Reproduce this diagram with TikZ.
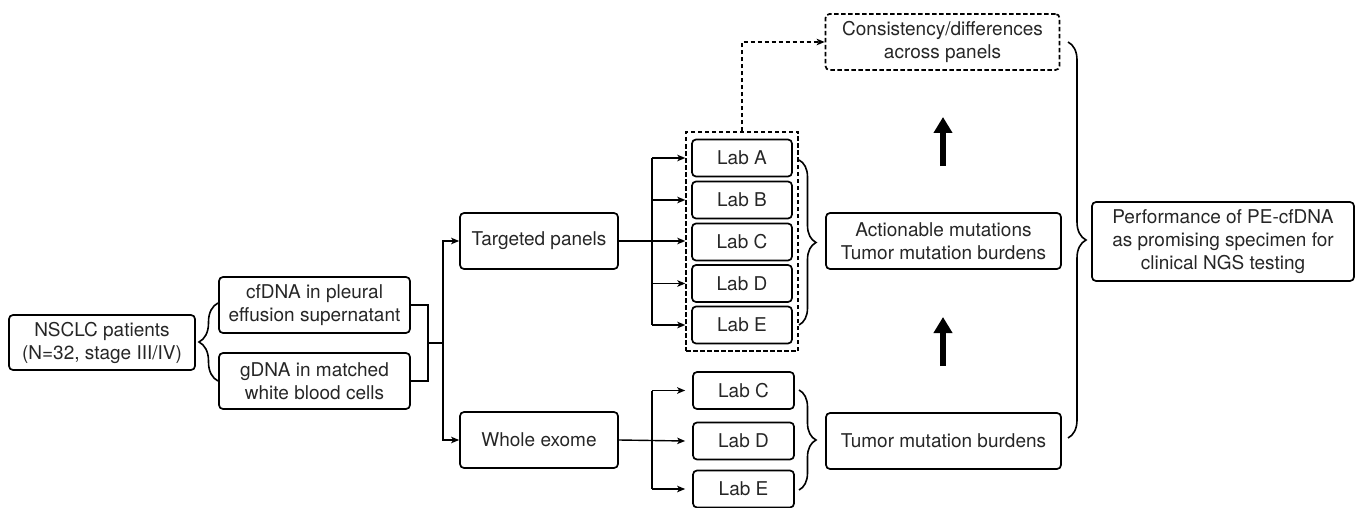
\documentclass[tikz,border=0pt]{standalone}
\usepackage{fontspec}
\setmainfont{TeX Gyre Heros}
\usetikzlibrary{arrows.meta,decorations.pathreplacing,calc}
\begin{document}
\begin{tikzpicture}[x=1pt,y=-1pt,
  box/.style={draw, rounded corners=4pt, line width=1.7pt, align=center, inner sep=0pt,
    font=\fontsize{19}{23}\selectfont, text=black!85},
  labbox/.style={box, minimum width=100pt, minimum height=37pt},
  ln/.style={line width=1.4pt},
  arr/.style={ln,-{Stealth[length=8pt,width=6.5pt,inset=2pt]}},
  dsh/.style={dash pattern=on 4.5pt off 2.5pt},
  brc/.style={line width=1.6pt, decorate, decoration={brace, amplitude=#1}},
  brc/.default=18pt,
  fat/.style={line width=5.5pt,-{Triangle[length=16pt,width=18pt]}}
]
\useasboundingbox (0,0) rectangle (1357,508);

% nodes
\node[box, minimum width=186pt, minimum height=55pt] (nsclc) at (102,342.5) {NSCLC patients\\(N=32, stage III/IV)};
\node[box, minimum width=191pt, minimum height=56pt] (cf) at (314.5,305) {cfDNA in pleural\\effusion supernatant};
\node[box, minimum width=191pt, minimum height=56pt] (gd) at (314.5,381) {gDNA in matched\\white blood cells};
\node[box, minimum width=158pt, minimum height=56pt] (tp) at (539,241) {Targeted panels};
\node[box, minimum width=158pt, minimum height=56pt] (we) at (539,440) {Whole exome};

\node[labbox] (la) at (742,158) {Lab A};
\node[labbox] (lb) at (742,200) {Lab B};
\node[labbox] (lc) at (742,242) {Lab C};
\node[labbox] (ld) at (742,283.5) {Lab D};
\node[labbox] (le) at (742,325) {Lab E};
\node[draw, ln, dsh, inner sep=0pt, minimum width=112pt, minimum height=219pt] (grp) at (742,241.5) {};

\node[labbox, minimum width=101pt] (wc) at (743.5,390.5) {Lab C};
\node[labbox, minimum width=101pt] (wd) at (743.5,441) {Lab D};
\node[labbox, minimum width=101pt] (wf) at (743.5,489) {Lab E};

\node[box, minimum width=235pt, minimum height=56pt] (am) at (943.5,241) {Actionable mutations\\Tumor mutation burdens};
\node[box, minimum width=235pt, minimum height=56pt] (tmb) at (943.5,441) {Tumor mutation burdens};
\node[box, dsh, minimum width=234pt, minimum height=56pt] (cons) at (942.5,42) {Consistency/differences\\across panels};
\node[box, minimum width=262pt, minimum height=79pt] (perf) at (1223,241.5) {Performance of PE-cfDNA\\as promising specimen for\\clinical NGS testing};

% junctions
\coordinate (j1) at (428,343);
\coordinate (j2) at (443,343);
\coordinate (bt) at (652,241);
\coordinate (bb) at (652,441);

\draw[ln] (cf.east) -| (j1) |- (gd.east);
\draw[ln] (j1) -- (j2);
\draw[arr] (j2) |- (tp.west);
\draw[arr] (j2) |- (we.west);

\draw[arr] (tp.east) -- (tp.east -| grp.west);
\draw[ln] (bt |- la.west) -- (bt |- le.west);
\foreach \n in {la,lb,ld,le}{
  \draw[arr] (bt |- \n.west) -- (grp.west |- \n.west);
}

\draw[arr] (we.east) -- ($(wd.west)+(-7,0)$);
\draw[ln] (bb |- wc.west) -- (bb |- wf.west);
\draw[arr] (bb |- wc.west) -- ($(wc.west)+(-7,0)$);
\draw[arr] (bb |- wf.west) -- ($(wf.west)+(-7,0)$);

\draw[arr, dsh] (grp.north) |- (cons.west);

% thick arrows
\coordinate (f1s) at (943,366);
\coordinate (f1e) at (943,317);
\coordinate (f2s) at (943,166);
\coordinate (f2e) at (943,117);
\draw[fat] (f1s) -- (f1e);
\draw[fat] (f2s) -- (f2e);

% braces
\draw[brc=19pt] (218,381) -- (218,303);
\draw[brc=17pt] (799,160) -- (799,325);
\draw[brc=17pt] (799,390) -- (799,490);
\draw[brc=18pt] (1068,42) -- (1068,438);
\end{tikzpicture}
\end{document}
